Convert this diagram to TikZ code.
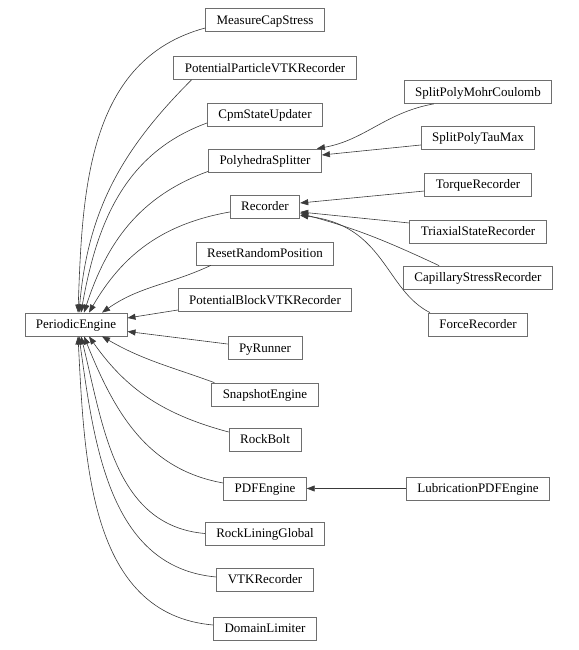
\documentclass[tikz,border=0pt]{standalone}
\usepackage{fontspec}
\setmainfont{Liberation Serif}
\usetikzlibrary{arrows.meta}
\definecolor{cBox}{HTML}{6E6E6E}
\definecolor{cEdge}{HTML}{3A3A3A}

\begin{document}
\begin{tikzpicture}[x=1pt, y=1pt, font=\fontsize{13}{15}\selectfont,
    cls/.style={draw=cBox, line width=0.8pt, fill=white, inner xsep=11pt, inner ysep=0pt,
      text height=10.5pt, text depth=2pt, minimum height=23pt},
    inh/.style={draw=cEdge, line width=0.6pt, -{Triangle[length=8pt,width=6pt]}}]
        \useasboundingbox (0,0) rectangle (578,-650);
        % base class
        \node[cls] (periodic)  at (76,-324.5)  {PeriodicEngine};
        % direct children
        \node[cls] (measure)   at (265,-20)    {MeasureCapStress};
        \node[cls] (pparticle) at (265,-68)    {PotentialParticleVTKRecorder};
        \node[cls] (cpm)       at (265,-114.5) {CpmStateUpdater};
        \node[cls] (poly)      at (265,-160.5) {PolyhedraSplitter};
        \node[cls] (recorder)  at (265,-206.5) {Recorder};
        \node[cls] (reset)     at (265,-253.5) {ResetRandomPosition};
        \node[cls] (pblock)    at (265,-300)   {PotentialBlockVTKRecorder};
        \node[cls] (pyrunner)  at (265,-348)   {PyRunner};
        \node[cls] (snapshot)  at (265,-394.5) {SnapshotEngine};
        \node[cls] (rockbolt)  at (265,-439.5) {RockBolt};
        \node[cls] (pdf)       at (265,-488.5) {PDFEngine};
        \node[cls] (lining)    at (265,-533.5) {RockLiningGlobal};
        \node[cls] (vtk)       at (265,-579.5) {VTKRecorder};
        \node[cls] (domain)    at (265,-628.5) {DomainLimiter};
        % grandchildren
        \node[cls] (mohr)      at (478,-92)    {SplitPolyMohrCoulomb};
        \node[cls] (taumax)    at (478,-137.5) {SplitPolyTauMax};
        \node[cls] (torque)    at (478,-184.5) {TorqueRecorder};
        \node[cls] (triaxial)  at (478,-231.5) {TriaxialStateRecorder};
        \node[cls] (capillary) at (478,-277.5) {CapillaryStressRecorder};
        \node[cls] (force)     at (478,-324.5) {ForceRecorder};
        \node[cls] (lubric)    at (478,-488.5) {LubricationPDFEngine};

        % edges into PeriodicEngine
        \draw[inh] ([yshift=-8pt]measure.west) to[out=195,in=88] ([xshift=2pt]periodic.north);
        \draw[inh] ([xshift=18pt]pparticle.south west) to[out=225,in=85] ([xshift=3pt]periodic.north);
        \draw[inh] ([yshift=-8.5pt]cpm.west) to[out=200,in=80] ([xshift=5pt]periodic.north);
        \draw[inh] ([yshift=1pt]poly.south west) to[out=200,in=72] ([xshift=8pt]periodic.north);
        \draw[inh] ([yshift=-5.5pt]recorder.west) to[out=190,in=60] ([xshift=13pt]periodic.north);
        \draw[inh] ([xshift=15pt]reset.south west) to[out=205,in=35] ([xshift=26pt]periodic.north);
        \draw[inh] ([yshift=-10pt]pblock.west) -- ([yshift=6.5pt]periodic.east);
        \draw[inh] ([yshift=4pt]pyrunner.west) -- ([yshift=-7pt]periodic.east);
        \draw[inh] ([xshift=3pt]snapshot.north west) to[out=160,in=-30] ([xshift=26pt]periodic.south);
        \draw[inh] ([yshift=7.5pt]rockbolt.west) to[out=165,in=-55] ([xshift=13pt]periodic.south);
        \draw[inh] ([yshift=5.5pt]pdf.west) to[out=170,in=-68] ([xshift=8pt]periodic.south);
        \draw[inh] (lining.west) to[out=175,in=-76] ([xshift=5pt]periodic.south);
        \draw[inh] ([yshift=2.5pt]vtk.west) to[out=175,in=-82] ([xshift=3pt]periodic.south);
        \draw[inh] ([yshift=3.5pt]domain.west) to[out=175,in=-87] ([xshift=2pt]periodic.south);

        % edges into the second level
        \draw[inh] ([xshift=30pt]mohr.south west) to[out=190,in=10] ([xshift=-5pt]poly.north east);
        \draw[inh] ([yshift=-7.5pt]taumax.west) -- ([yshift=5.5pt]poly.east);
        \draw[inh] ([yshift=-6.5pt]torque.west) -- ([yshift=3.5pt]recorder.east);
        \draw[inh] ([yshift=8.5pt]triaxial.west) -- ([yshift=-5.5pt]recorder.east);
        \draw[inh] ([xshift=36pt]capillary.north west) to[out=155,in=-15] ([yshift=-7pt]recorder.east);
        \draw[inh] ([xshift=2pt]force.north west) .. controls (385,-290) and (385,-225) .. ([yshift=-9pt]recorder.east);
        \draw[inh] (lubric.west) -- (pdf.east);
\end{tikzpicture}
\end{document}
